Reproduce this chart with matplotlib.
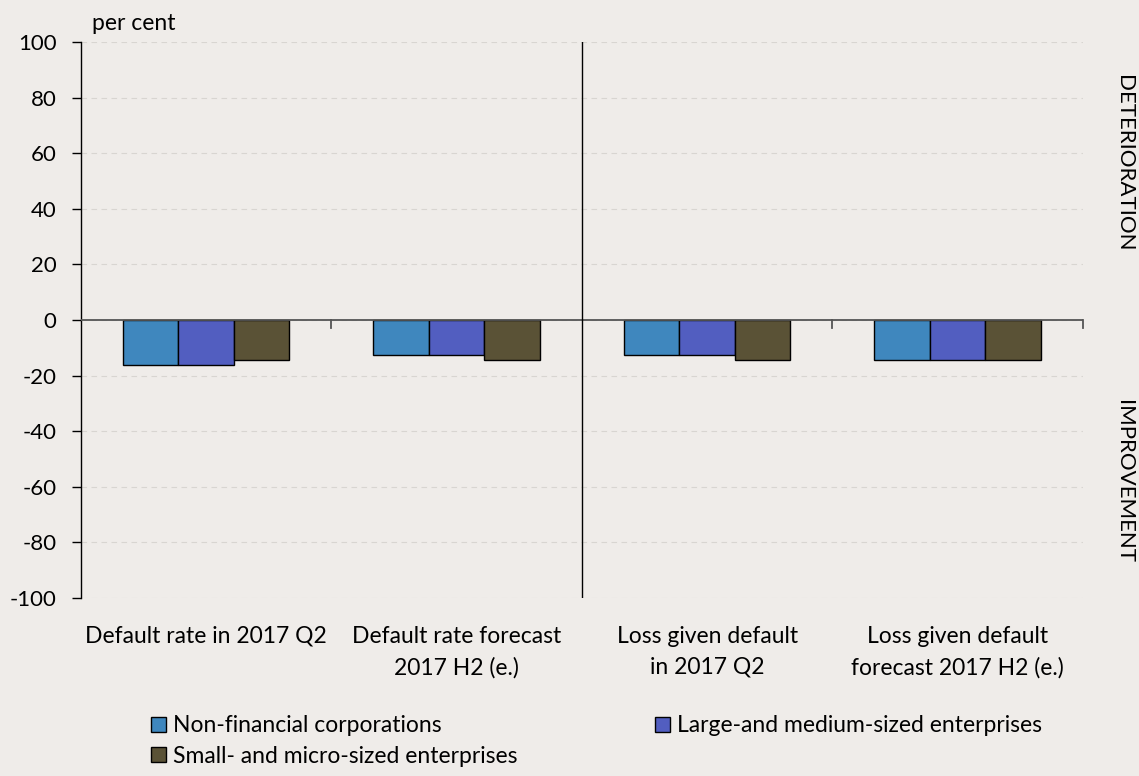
import matplotlib.pyplot as plt
import numpy as np

categories = ["Default rate in 2017 Q2", "Default rate forecast\n2017 H2 (e.)",
              "Loss given default\nin 2017 Q2", "Loss given default\nforecast 2017 H2 (e.)"]
series_names = ["Non-financial corporations", "Large-and medium-sized enterprises",
                "Small- and micro-sized enterprises"]
non_financial = [-16.3, -12.7, -12.7, -14.5]
large_medium = [-16.3, -12.7, -12.7, -14.5]
small_micro = [-14.5, -14.5, -14.5, -14.5]
yticks = list(range(-100, 101, 20))

colors = ["#3F87BE", "#525EC0", "#5A5236"]
bg = "#EFECE9"
fs = 16.5
plt.rcParams["font.family"] = ["Lato", "DejaVu Sans"]

fig = plt.figure(figsize=(11.39, 7.76), dpi=100, facecolor=bg)
ax = fig.add_axes([0.0711, 0.2294, 0.8797, 0.7165])
ax.set_facecolor(bg)

x = np.arange(len(categories))
w = 0.2216
bars = []
for i, (vals, c, name) in enumerate(zip([non_financial, large_medium, small_micro], colors, series_names)):
    b = ax.bar(x + (i - 1) * w, vals, width=w, color=c, edgecolor="black", linewidth=1.0,
               label=name, zorder=3)
    bars.append(b)

ax.set_xlim(-0.5, 3.5)
ax.set_ylim(-100, 100)
ax.set_yticks(yticks)
ax.set_yticklabels([str(v) for v in yticks], fontsize=fs - 0.5)
ax.yaxis.grid(True, color="#D8D5D1", linestyle=(0, (5, 4)), linewidth=0.8)
ax.set_axisbelow(True)
ax.tick_params(axis="y", length=6.5, width=1, pad=11, color="black")

for s in ["top", "right", "bottom"]:
    ax.spines[s].set_visible(False)
ax.spines["left"].set_linewidth(1)

# zero line, separator and category boundary ticks
ax.axhline(0, color="#555555", linewidth=1.3, zorder=4)
ax.axvline(1.5, color="black", linewidth=1, zorder=4)
for t in [0.5, 2.5, 3.5]:
    ax.plot([t, t], [0, -3.0], color="#555555", linewidth=1.3, zorder=4, clip_on=False)

ax.set_xticks(x)
ax.set_xticklabels([])
ax.tick_params(axis="x", length=0)
for xi, lab in zip(x, categories):
    ax.text(xi, -110.0, lab, ha="center", va="top", fontsize=fs, linespacing=1.6)

fig.text(0.081, 0.970, "per cent", fontsize=fs, ha="left", va="center")
fig.text(0.996, 0.789, "DETERIORATION", rotation=-90, fontsize=fs - 0.5, ha="right", va="center")
fig.text(0.996, 0.379, "IMPROVEMENT", rotation=-90, fontsize=fs - 0.5, ha="right", va="center")

leg_kw = dict(loc="upper left", frameon=False, fontsize=fs, handlelength=0.65,
              handleheight=0.65, handletextpad=0.3, labelspacing=0.4,
              borderaxespad=0, borderpad=0)
fig.legend([bars[0], bars[2]], [series_names[0], series_names[2]],
           bbox_to_anchor=(151 / 1139, 0.078), **leg_kw)
fig.legend([bars[1]], [series_names[1]],
           bbox_to_anchor=(655 / 1139, 0.078), **leg_kw)

fig.savefig("out.png", dpi=100, facecolor=bg)
